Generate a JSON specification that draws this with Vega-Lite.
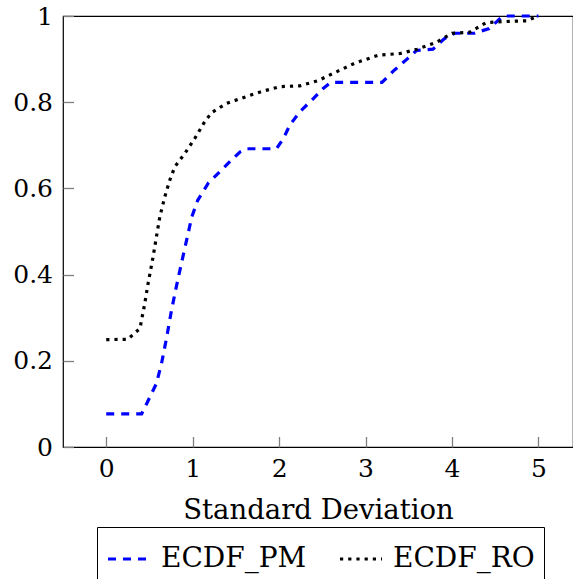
{
  "$schema": "https://vega.github.io/schema/vega-lite/v6.json",
  "width": 510,
  "height": 431,
  "autosize": {"type": "none"},
  "padding": {"left": 63, "top": 16, "right": 0, "bottom": 132},
  "background": "white",
  "config": {
    "view": {"stroke": "#000000", "strokeWidth": 1.2},
    "font": "DejaVu Serif",
    "axis": {
      "grid": false,
      "domain": false,
      "ticks": true,
      "tickColor": "#808080",
      "tickWidth": 1.3,
      "labelFont": "DejaVu Serif",
      "labelFontSize": 25,
      "labelColor": "#000000",
      "titleFont": "DejaVu Serif",
      "titleFontSize": 27.5,
      "titleFontWeight": "normal",
      "titleColor": "#000000"
    }
  },
  "data": {
    "values": [
      {"series": "ECDF_PM", "x": 0, "y": 0.077},
      {"series": "ECDF_PM", "x": 0.41, "y": 0.077},
      {"series": "ECDF_PM", "x": 0.45, "y": 0.093},
      {"series": "ECDF_PM", "x": 0.58, "y": 0.147},
      {"series": "ECDF_PM", "x": 0.64, "y": 0.194},
      {"series": "ECDF_PM", "x": 0.70, "y": 0.255},
      {"series": "ECDF_PM", "x": 0.755, "y": 0.317},
      {"series": "ECDF_PM", "x": 0.81, "y": 0.371},
      {"series": "ECDF_PM", "x": 0.87, "y": 0.426},
      {"series": "ECDF_PM", "x": 0.93, "y": 0.48},
      {"series": "ECDF_PM", "x": 0.99, "y": 0.534},
      {"series": "ECDF_PM", "x": 1.06, "y": 0.573},
      {"series": "ECDF_PM", "x": 1.18, "y": 0.612},
      {"series": "ECDF_PM", "x": 1.31, "y": 0.638},
      {"series": "ECDF_PM", "x": 1.45, "y": 0.666},
      {"series": "ECDF_PM", "x": 1.55, "y": 0.685},
      {"series": "ECDF_PM", "x": 1.62, "y": 0.692},
      {"series": "ECDF_PM", "x": 1.97, "y": 0.692},
      {"series": "ECDF_PM", "x": 2.05, "y": 0.716},
      {"series": "ECDF_PM", "x": 2.125, "y": 0.747},
      {"series": "ECDF_PM", "x": 2.24, "y": 0.778},
      {"series": "ECDF_PM", "x": 2.38, "y": 0.805},
      {"series": "ECDF_PM", "x": 2.51, "y": 0.832},
      {"series": "ECDF_PM", "x": 2.6, "y": 0.846},
      {"series": "ECDF_PM", "x": 3.19, "y": 0.846},
      {"series": "ECDF_PM", "x": 3.32, "y": 0.872},
      {"series": "ECDF_PM", "x": 3.48, "y": 0.9},
      {"series": "ECDF_PM", "x": 3.59, "y": 0.92},
      {"series": "ECDF_PM", "x": 3.78, "y": 0.923},
      {"series": "ECDF_PM", "x": 3.91, "y": 0.947},
      {"series": "ECDF_PM", "x": 4.03, "y": 0.96},
      {"series": "ECDF_PM", "x": 4.26, "y": 0.96},
      {"series": "ECDF_PM", "x": 4.43, "y": 0.971},
      {"series": "ECDF_PM", "x": 4.58, "y": 0.998},
      {"series": "ECDF_PM", "x": 4.6, "y": 1.0},
      {"series": "ECDF_PM", "x": 5.0, "y": 1.0},
      {"series": "ECDF_RO", "x": 0, "y": 0.249},
      {"series": "ECDF_RO", "x": 0.25, "y": 0.25},
      {"series": "ECDF_RO", "x": 0.39, "y": 0.275},
      {"series": "ECDF_RO", "x": 0.446, "y": 0.333},
      {"series": "ECDF_RO", "x": 0.484, "y": 0.379},
      {"series": "ECDF_RO", "x": 0.542, "y": 0.441},
      {"series": "ECDF_RO", "x": 0.581, "y": 0.488},
      {"series": "ECDF_RO", "x": 0.62, "y": 0.534},
      {"series": "ECDF_RO", "x": 0.677, "y": 0.58},
      {"series": "ECDF_RO", "x": 0.735, "y": 0.619},
      {"series": "ECDF_RO", "x": 0.793, "y": 0.65},
      {"series": "ECDF_RO", "x": 0.909, "y": 0.681},
      {"series": "ECDF_RO", "x": 1.025, "y": 0.716},
      {"series": "ECDF_RO", "x": 1.14, "y": 0.755},
      {"series": "ECDF_RO", "x": 1.22, "y": 0.776},
      {"series": "ECDF_RO", "x": 1.39, "y": 0.797},
      {"series": "ECDF_RO", "x": 1.62, "y": 0.813},
      {"series": "ECDF_RO", "x": 1.82, "y": 0.826},
      {"series": "ECDF_RO", "x": 2.01, "y": 0.836},
      {"series": "ECDF_RO", "x": 2.24, "y": 0.838},
      {"series": "ECDF_RO", "x": 2.45, "y": 0.85},
      {"series": "ECDF_RO", "x": 2.68, "y": 0.872},
      {"series": "ECDF_RO", "x": 2.88, "y": 0.891},
      {"series": "ECDF_RO", "x": 3.15, "y": 0.909},
      {"series": "ECDF_RO", "x": 3.4, "y": 0.913},
      {"series": "ECDF_RO", "x": 3.6, "y": 0.923},
      {"series": "ECDF_RO", "x": 3.82, "y": 0.939},
      {"series": "ECDF_RO", "x": 4.0, "y": 0.96},
      {"series": "ECDF_RO", "x": 4.2, "y": 0.962},
      {"series": "ECDF_RO", "x": 4.4, "y": 0.985},
      {"series": "ECDF_RO", "x": 4.6, "y": 0.987},
      {"series": "ECDF_RO", "x": 4.87, "y": 0.989},
      {"series": "ECDF_RO", "x": 4.96, "y": 0.997},
      {"series": "ECDF_RO", "x": 5.0, "y": 1.0}
    ]
  },
  "mark": {"type": "line", "strokeWidth": 3.2, "strokeCap": "butt"},
  "encoding": {
    "x": {
      "field": "x", "type": "quantitative",
      "scale": {"domain": [-0.5, 5.4], "nice": false, "zero": false},
      "axis": {"values": [0, 1, 2, 3, 4, 5], "format": "d", "title": "Standard Deviation", "tickSize": -10.5, "labelPadding": 20, "titlePadding": 15}
    },
    "y": {
      "field": "y", "type": "quantitative",
      "scale": {"domain": [0, 1], "nice": false, "zero": false},
      "axis": {"values": [0, 0.2, 0.4, 0.6, 0.8, 1], "format": ".1~f", "title": null, "tickSize": -10.5, "labelPadding": 21}
    },
    "color": {
      "field": "series", "type": "nominal",
      "scale": {"domain": ["ECDF_PM", "ECDF_RO"], "range": ["#0000ff", "#000000"]},
      "legend": {"orient": "none", "legendX": 34, "legendY": 511, "direction": "horizontal", "title": null, "strokeColor": "#000000", "padding": 9, "symbolType": "stroke", "symbolSize": 1764, "symbolStrokeWidth": 3.2, "labelFontSize": 28, "labelFont": "DejaVu Serif", "labelColor": "#000000", "labelOffset": 9, "columnPadding": 26, "labelLimit": 0}
    },
    "strokeDash": {
      "field": "series", "type": "nominal",
      "scale": {"domain": ["ECDF_PM", "ECDF_RO"], "range": [[8, 7], [3.2, 5]]},
      "legend": {"orient": "none", "legendX": 34, "legendY": 511, "direction": "horizontal", "title": null, "strokeColor": "#000000", "padding": 9, "symbolType": "stroke", "symbolSize": 1764, "symbolStrokeWidth": 3.2, "labelFontSize": 28, "labelFont": "DejaVu Serif", "labelColor": "#000000", "labelOffset": 9, "columnPadding": 26, "labelLimit": 0}
    }
  }
}
